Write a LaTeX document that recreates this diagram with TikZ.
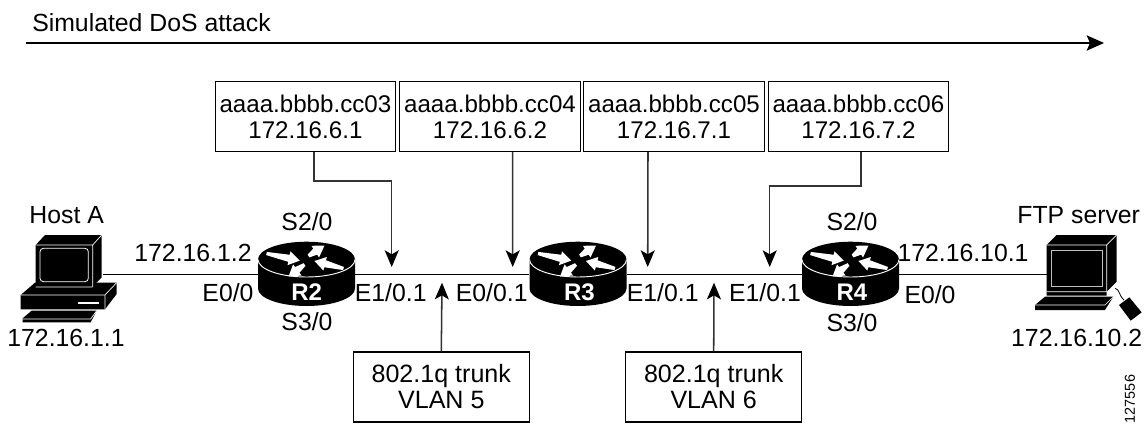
\documentclass[tikz,border=0pt]{standalone}
\usepackage{fontspec}
\setmainfont{Liberation Sans}
\usetikzlibrary{arrows.meta}
\tikzset{
  lab/.style={inner sep=0pt,text height=13.4pt,text depth=0pt,font=\fontsize{18.6}{20}\selectfont},
  rname/.style={inner sep=0pt,text=white,font=\fontsize{18}{20}\selectfont\bfseries},
  infobox/.style={draw,line width=.9pt,inner sep=0pt,align=center,minimum width=135.2pt,minimum height=52.5pt,font=\fontsize{18.1}{19.5}\selectfont},
  trunkbox/.style={draw,line width=.9pt,inner sep=0pt,align=center,minimum width=132pt,minimum height=52.5pt,font=\fontsize{18.8}{19.5}\selectfont},
  routerbox/.style={inner sep=0pt,minimum width=72.75pt,minimum height=48pt},
  conn/.style={line width=1.15pt,black!80,-{Stealth[length=12.5pt,width=10.5pt,inset=3pt,black]}},
  link/.style={line width=.9pt},
  zoomed/.style={x=.25pt,y=-.25pt},
  router/.pic={
    \fill[black] (-48.5,0) -- (-48.5,29) .. controls (-48.5,38.66) and (-26.8,46.5) .. (0,46.5)
      .. controls (26.8,46.5) and (48.5,38.66) .. (48.5,29) -- (48.5,0) -- cycle;
    \fill[black] (0,0) ellipse [x radius=48.5,y radius=17.8];
    \draw[white,line width=.7pt] (-48.5,0) .. controls (-48.5,9.66) and (-26.8,17.5) .. (0,17.5)
      .. controls (26.8,17.5) and (48.5,9.66) .. (48.5,0);
    \foreach \ax/\ay/\rot/\L in {-40/-6/-12/34, 2/-3.5/33/19, 37/9/-194.5/30, -2/5/-143/20}{
      \begin{scope}[shift={(\ax,\ay)},rotate=\rot]
        \fill[white] (0,-1.6) -- (\L-11,-3.6) -- (\L-11,-7) -- (\L,0) -- (\L-11,7) -- (\L-11,3.6) -- (0,1.6) -- cycle;
      \end{scope}
    }
  }
}
\begin{document}
\begin{tikzpicture}[x=.75pt,y=-.75pt]
\useasboundingbox (0,0) rectangle (1146,425);
\fill[white] (0,0) rectangle (1146,425);

% anchors for the connectors
\coordinate (attackL) at (26,43);
\coordinate (attackR) at (1104,43);
\coordinate (hostA) at (103,274.5);
\coordinate (ftp) at (1047,274.5);
\coordinate (t1) at (391.7,267);
\coordinate (t2) at (512.7,267);
\coordinate (t3) at (647.7,267);
\coordinate (t4) at (769.7,267);
\coordinate (t5) at (442,282.7);
\coordinate (t6) at (714,282.7);

\node[routerbox] (R2) at (306.5,274.5) {};
\node[routerbox] (R3) at (578,274.5) {};
\node[routerbox] (R4) at (850.5,274.5) {};

% title
\node[lab,anchor=west] (title) at (32,23) {Simulated DoS attack};
\draw[line width=1.15pt,-{Stealth[length=13pt,width=11.5pt,inset=2.5pt]}] (attackL) -- (attackR);

% links
\draw[link] (hostA) -- (R2);
\draw[link] (R2) -- (R3);
\draw[link] (R3) -- (R4);
\draw[link] (R4) -- (ftp);

% boxes
\node[infobox] (b1) at (305.4,116.5) {aaaa.bbbb.cc03\\172.16.6.1};
\node[infobox] (b2) at (490,116.5) {aaaa.bbbb.cc04\\172.16.6.2};
\node[infobox] (b3) at (674,116.5) {aaaa.bbbb.cc05\\172.16.7.1};
\node[infobox] (b4) at (858.4,116.5) {aaaa.bbbb.cc06\\172.16.7.2};
\node[trunkbox] (b5) at (441.3,387) {802.1q trunk\\VLAN 5};
\node[trunkbox] (b6) at (713.7,387) {802.1q trunk\\VLAN 6};

% connectors
\draw[conn] ([xshift=6.6pt]b1.south) -- ++(0,28.7) -| (t1);
\draw[conn] ([xshift=17pt]b2.south) -- (t2);
\draw[conn] ([xshift=-19.5pt]b3.south) -- (t3);
\draw[conn] ([xshift=2pt]b4.south) -- ++(0,33.7) -| (t4);
\draw[conn] (b5.north) -- (t5);
\draw[conn] (b6.north) -- (t6);

% routers
\pic at (306.5,259.5) {router};
\pic at (578,259.5) {router};
\pic at (850.5,259.5) {router};
\node[rname] (n2) at (306.7,292) {R2};
\node[rname] (n3) at (579.5,292) {R3};
\node[rname] (n4) at (852,292) {R4};

% host A
\begin{scope}[shift={(0,190)},zoomed]
  \fill (62,315) -- (105,278) -- (350,278) -- (350,312) -- (315,358) -- (62,358) -- cycle;
  \draw[white,line width=.5pt] (62,315) -- (315,315) -- (350,278) (315,315) -- (315,358);
  \fill[white] (235,335) rectangle (298,342);
  \fill (107,165) -- (135,135) -- (305,135) -- (305,262) -- (278,290) -- (107,290) -- cycle;
  \draw[white,line width=.5pt] (107,165) -- (278,165) -- (305,135) (278,165) -- (278,290) (107,291) -- (278,291);
  \draw[white,line width=.6pt,rounded corners=2.5pt] (120,175) rectangle (265,275);
  \fill (68,385) -- (95,362) -- (290,362) -- (272,397) -- (68,397) -- cycle;
  \draw[white,line width=.5pt] (68,387) -- (272,387) -- (290,362);
\end{scope}

% FTP server
\begin{scope}[shift={(780,190)},zoomed]
  \draw[line width=.6pt] (1005,295) .. controls (1020,298) and (1015,315) .. (1032,330);
  \fill (1017,345) -- (1048,322) -- (1085,367) -- (1052,392) -- cycle;
  \fill (765,345) -- (795,320) -- (1000,320) -- (975,360) -- (765,360) -- cycle;
  \draw[white,line width=.5pt] (765,345) -- (975,345) -- (1000,320);
  \fill (800,165) -- (830,135) -- (1010,135) -- (1010,275) -- (980,305) -- (980,317) -- (800,317) -- cycle;
  \draw[white,line width=.5pt] (800,165) -- (980,165) -- (1010,135) (980,165) -- (980,305) (800,305) -- (980,305);
  \draw[white!75!black,line width=.7pt] (815,182) rectangle (968,288);
\end{scope}

% labels
\node[lab] (lh) at (66.7,215) {Host A};
\node[lab] (lh2) at (66,337.7) {172.16.1.1};
\node[lab] (l1) at (193,253) {172.16.1.2};
\node[lab] (l2) at (228,293) {E0/0};
\node[lab] (l3) at (307,222) {S2/0};
\node[lab] (l4) at (307,322) {S3/0};
\node[lab] (l5) at (390.7,293) {E1/0.1};
\node[lab] (l6) at (491.7,293) {E0/0.1};
\node[lab] (l7) at (662.7,293) {E1/0.1};
\node[lab] (l8) at (765,293) {E1/0.1};
\node[lab] (l9) at (852,222) {S2/0};
\node[lab] (l10) at (852,322.7) {S3/0};
\node[lab] (l11) at (963,253) {172.16.10.1};
\node[lab] (l12) at (930,295) {E0/0};
\node[lab] (lf) at (1078.7,215) {FTP server};
\node[lab] (lf2) at (1076.7,337.7) {172.16.10.2};
\node[inner sep=0pt,rotate=90,font=\fontsize{10.8}{12}\selectfont] (id) at (1130,399) {127556};
\end{tikzpicture}
\end{document}
